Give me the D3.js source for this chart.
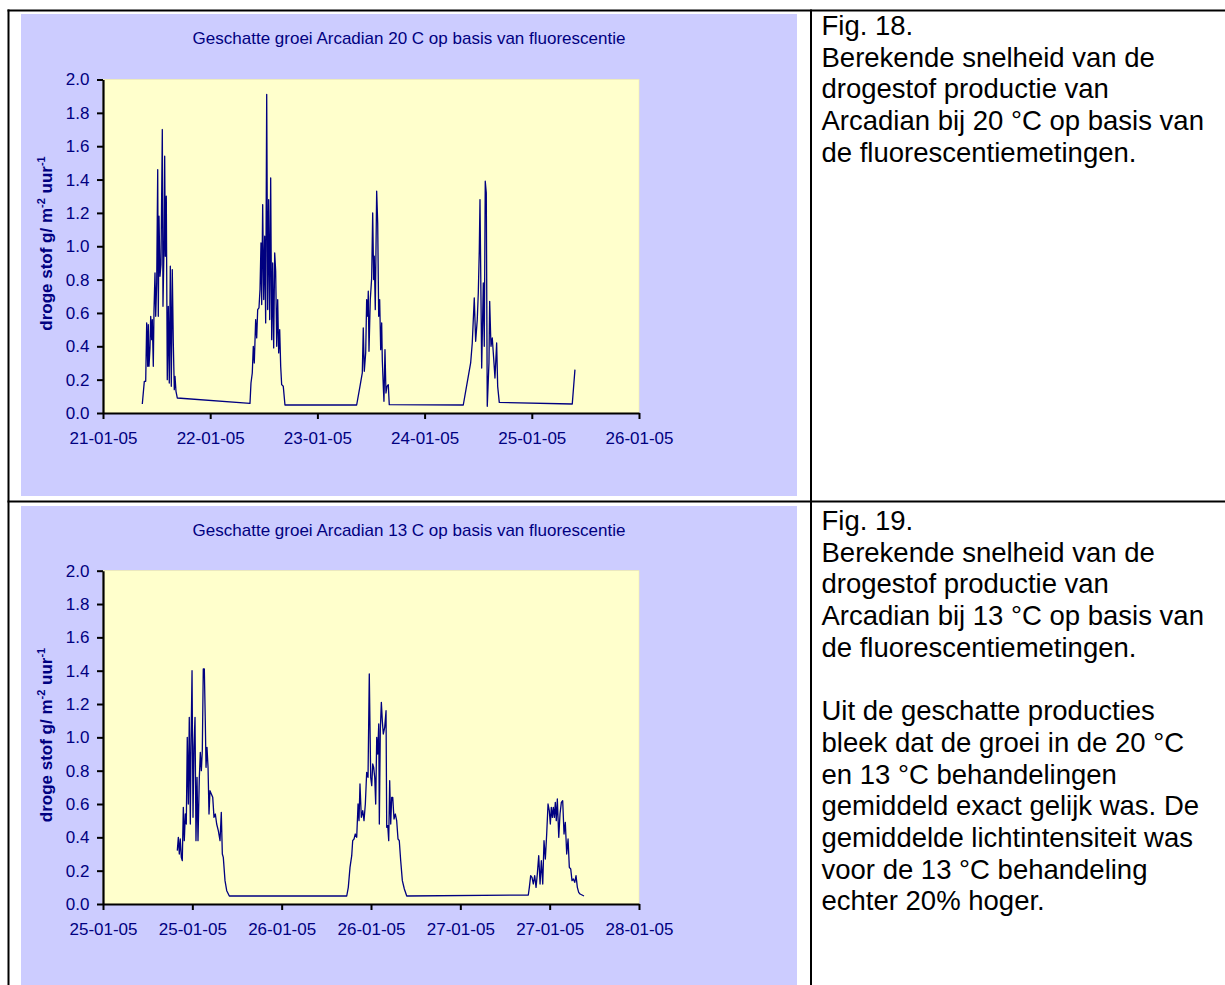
<!DOCTYPE html>
<html><head><meta charset="utf-8">
<script src="https://cdn.jsdelivr.net/npm/d3@7"></script>
<style>body{margin:0;background:#fff}svg{display:block}</style>
</head><body>
<svg id="page" width="1225" height="985"></svg>
<script>
// ---------- DATA ----------
const title20 = "Geschatte groei Arcadian 20 C op basis van fluorescentie";
const title13 = "Geschatte groei Arcadian 13 C op basis van fluorescentie";
const yTicks = [0, 0.2, 0.4, 0.6, 0.8, 1.0, 1.2, 1.4, 1.6, 1.8, 2.0];
const start20 = [2005, 0, 21]; // 21-01-05
const end20 = [2005, 0, 26];
const start13 = [2005, 0, 25]; // 25-01-05
const end13 = [2005, 0, 28];
// [hours since start, g/m2/uur]
const series20 = [
  [8.80,0.054],[9.25,0.19],[9.56,0.19],[9.78,0.54],[10.01,0.28],[10.14,0.53],[10.30,0.28],[10.52,0.39],
  [10.68,0.58],[10.90,0.44],[11.04,0.56],[11.26,0.28],[11.42,0.62],[11.64,0.84],[11.80,0.58],[12.02,0.78],
  [12.25,1.46],[12.38,0.58],[12.54,1.18],[12.76,0.82],[12.98,0.89],[13.28,1.70],[13.43,0.64],[13.66,1.00],
  [13.81,1.54],[13.95,0.94],[14.17,1.30],[14.39,0.20],[14.62,0.64],[14.84,0.18],[15.07,0.88],[15.29,0.16],
  [15.51,0.86],[15.74,0.42],[15.96,0.14],[16.12,0.22],[16.34,0.13],[16.63,0.09],
  [32.91,0.058],[33.13,0.18],[33.42,0.24],[33.65,0.40],[33.87,0.30],[34.18,0.56],[34.41,0.45],[34.63,0.62],
  [34.92,0.63],[35.15,0.74],[35.37,1.02],[35.53,0.65],[35.75,1.25],[35.98,0.68],[36.20,1.06],[36.42,0.54],
  [36.65,1.91],[36.87,0.62],[37.09,1.28],[37.32,0.56],[37.54,1.41],[37.77,0.44],[37.99,0.90],[38.21,0.39],
  [38.44,0.96],[38.66,0.85],[38.89,0.40],[39.11,0.68],[39.33,0.36],[39.56,0.50],[39.78,0.28],[40.00,0.17],
  [40.36,0.16],[40.74,0.048],
  [56.79,0.048],[57.53,0.16],[58.05,0.24],[58.27,0.51],[58.50,0.25],[58.81,0.36],[59.03,0.68],[59.26,0.58],
  [59.39,0.73],[59.55,0.37],[59.84,0.68],[60.15,0.81],[60.38,1.20],[60.60,0.80],[60.73,0.94],[60.96,0.62],
  [61.27,1.33],[61.50,1.14],[61.72,0.58],[61.94,0.68],[62.17,0.38],[62.39,0.54],[62.53,0.32],[62.75,0.16],
  [62.90,0.07],[63.13,0.38],[63.35,0.12],[63.57,0.16],[63.87,0.17],[64.09,0.05],
  [80.66,0.048],[81.26,0.14],[81.78,0.22],[82.31,0.30],[82.67,0.42],[83.12,0.69],[83.43,0.43],[83.79,0.56],
  [84.02,0.72],[84.24,0.97],[84.40,1.28],[84.78,0.27],[85.14,0.78],[85.36,0.40],[85.58,1.39],[85.81,1.32],
  [86.03,0.04],[86.41,0.30],[86.57,0.67],[86.86,0.40],[87.15,0.45],[87.46,0.33],[87.75,0.21],[88.13,0.42],
  [88.36,0.16],[88.72,0.064],[105.06,0.054],[105.66,0.26]
];
const series13 = [
  [9.98,0.32],[10.12,0.40],[10.25,0.30],[10.38,0.39],[10.52,0.28],[10.65,0.26],[10.79,0.58],[10.92,0.38],
  [11.06,0.54],[11.19,0.48],[11.32,1.00],[11.46,0.60],[11.59,1.12],[11.73,0.48],[11.82,0.94],[11.96,1.40],
  [12.09,0.52],[12.22,0.94],[12.36,1.12],[12.49,0.38],[12.63,0.76],[12.76,0.38],[12.94,0.76],[13.07,0.91],
  [13.21,0.80],[13.34,0.92],[13.47,1.41],[13.61,1.41],[13.74,1.10],[13.84,0.82],[13.97,0.94],[14.11,0.82],
  [14.24,0.54],[14.37,0.68],[14.55,0.66],[14.74,0.64],[14.91,0.52],[15.09,0.54],[15.27,0.48],[15.49,0.44],
  [15.72,0.38],[15.89,0.55],[16.03,0.30],[16.16,0.28],[16.39,0.14],[16.62,0.08],[16.97,0.048],
  [32.74,0.048],[32.95,0.10],[33.18,0.22],[33.41,0.29],[33.54,0.38],[33.72,0.39],[33.89,0.42],[34.08,0.40],
  [34.26,0.60],[34.39,0.50],[34.52,0.72],[34.70,0.52],[34.89,0.56],[35.06,0.50],[35.24,0.60],[35.42,0.79],
  [35.60,0.76],[35.77,1.38],[35.96,0.76],[36.10,0.71],[36.23,0.84],[36.36,0.82],[36.50,0.76],[36.63,0.60],
  [36.77,1.00],[36.90,0.90],[37.04,1.08],[37.12,0.48],[37.25,1.04],[37.39,1.21],[37.52,1.10],[37.65,1.02],
  [37.84,1.06],[38.02,1.16],[38.11,0.46],[38.25,0.47],[38.38,0.38],[38.51,0.74],[38.65,0.48],[38.78,0.64],
  [38.92,0.64],[39.09,0.51],[39.27,0.54],[39.45,0.50],[39.63,0.39],[39.80,0.38],[39.99,0.26],[40.21,0.14],
  [40.48,0.09],[40.80,0.048],
  [57.13,0.054],[57.27,0.10],[57.45,0.17],[57.63,0.16],[57.80,0.12],[57.99,0.17],[58.17,0.10],[58.34,0.18],
  [58.53,0.29],[58.71,0.12],[58.88,0.26],[59.07,0.12],[59.24,0.38],[59.42,0.27],[59.60,0.42],[59.78,0.60],
  [59.95,0.56],[60.09,0.48],[60.22,0.58],[60.36,0.52],[60.49,0.58],[60.63,0.52],[60.76,0.61],[60.89,0.50],
  [61.03,0.63],[61.22,0.40],[61.39,0.54],[61.57,0.61],[61.75,0.62],[61.93,0.42],[62.10,0.49],[62.29,0.30],
  [62.47,0.39],[62.64,0.22],[62.83,0.21],[63.00,0.14],[63.18,0.15],[63.37,0.13],[63.54,0.17],[63.72,0.10],
  [63.90,0.07],[64.08,0.06],[64.35,0.054],[64.61,0.048]
];
const caption18 = ["Fig. 18.", "Berekende snelheid van de", "drogestof productie van",
  "Arcadian bij 20 °C op basis van", "de fluorescentiemetingen."];
const caption19 = ["Fig. 19.", "Berekende snelheid van de", "drogestof productie van",
  "Arcadian bij 13 °C op basis van", "de fluorescentiemetingen.", "",
  "Uit de geschatte producties", "bleek dat de groei in de 20 °C", "en 13 °C behandelingen",
  "gemiddeld exact gelijk was. De", "gemiddelde lichtintensiteit was", "voor de 13 °C behandeling",
  "echter 20% hoger."];

// ---------- DRAW ----------
const svg = d3.select("#page");
const NAVY = "#000080";
const FONT = "'Liberation Sans', Arial, sans-serif";

// lavender chart backgrounds
svg.append("rect").attr("x",21).attr("y",14).attr("width",776).attr("height",482).attr("fill","#CCCCFF");
svg.append("rect").attr("x",21).attr("y",506).attr("width",776).attr("height",479).attr("fill","#CCCCFF");

// table borders
const border = svg.append("g").attr("fill","#000");
border.append("rect").attr("x",7.5).attr("y",9.5).attr("width",1225).attr("height",2);
border.append("rect").attr("x",7.5).attr("y",9.5).attr("width",2).attr("height",985);
border.append("rect").attr("x",810).attr("y",9.5).attr("width",2).attr("height",985);
border.append("rect").attr("x",7.5).attr("y",500.5).attr("width",1225).attr("height",2);

function drawChart(cfg) {
  const g = svg.append("g");
  const x = d3.scaleTime().domain([cfg.start, cfg.end]).range([103, 639]);
  const y = d3.scaleLinear().domain([0, 2]).range([cfg.axisY, cfg.plotTop]);
  g.append("rect").attr("x",103).attr("y",cfg.plotTop).attr("width",536)
    .attr("height",cfg.axisY-cfg.plotTop).attr("fill","#FFFFCC").attr("stroke","#F5F0A0").attr("stroke-width",0.6);
  g.append("text").attr("x",409).attr("y",cfg.titleY).attr("text-anchor","middle")
    .attr("font-family",FONT).attr("font-size",17).attr("fill",NAVY).text(cfg.title);
  const toDate = h => new Date(cfg.start.getTime() + h*3600e3);
  const line = d3.line().x(d => x(toDate(d[0]))).y(d => y(d[1]));
  g.append("path").datum(cfg.data).attr("d",line).attr("fill","none")
    .attr("stroke",NAVY).attr("stroke-width",1.3).attr("stroke-linejoin","round");

  const yAxis = d3.axisLeft(y).tickValues(yTicks).tickFormat(d3.format(".1f"))
    .tickSize(6).tickSizeOuter(0).tickPadding(7.5);
  const ya = g.append("g").attr("transform","translate(103,0)").call(yAxis);
  const xAxis = d3.axisBottom(x).tickValues(cfg.ticks).tickFormat(d3.timeFormat("%d-%m-%y"))
    .tickSize(6).tickSizeOuter(0).tickPadding(12.5);
  const xa = g.append("g").attr("transform",`translate(0,${cfg.axisY})`).call(xAxis);
  [ya, xa].forEach(a => {
    a.select(".domain").attr("stroke","#000").attr("stroke-width",2.2);
    a.selectAll(".tick line").attr("stroke","#000").attr("stroke-width",2);
    a.selectAll(".tick text").attr("fill",NAVY).attr("font-family",FONT).attr("font-size",17);
  });
  const yl = g.append("text").attr("transform",`translate(52,${cfg.labelY}) rotate(-90)`)
    .attr("text-anchor","middle").attr("font-family",FONT).attr("font-size",17)
    .attr("font-weight","bold").attr("fill",NAVY);
  yl.append("tspan").text("droge stof g/ m");
  yl.append("tspan").attr("font-size",11).attr("dy",-7).text("-2");
  yl.append("tspan").attr("dy",7).text(" uur");
  yl.append("tspan").attr("font-size",11).attr("dy",-7).text("-1");
}

const s20 = new Date(...start20), e20 = new Date(...end20);
const s13 = new Date(...start13), e13 = new Date(...end13);
drawChart({title:title20, data:series20, start:s20, end:e20, plotTop:79.5, axisY:413,
  titleY:44.3, labelY:243.5, ticks:d3.timeDay.range(s20, d3.timeHour.offset(e20,1))});
drawChart({title:title13, data:series13, start:s13, end:e13, plotTop:570.7, axisY:904,
  titleY:535.5, labelY:735, ticks:d3.timeHour.range(s13, d3.timeHour.offset(e13,1), 12)});

function caption(lines, y0) {
  const t = svg.append("g").attr("font-family",FONT).attr("font-size",27.5).attr("fill","#000");
  lines.forEach((s,i) => { if (s) t.append("text").attr("x",821.5).attr("y",y0 + i*31.7).text(s); });
}
caption(caption18, 35);
caption(caption19, 530);
</script>
</body></html>
